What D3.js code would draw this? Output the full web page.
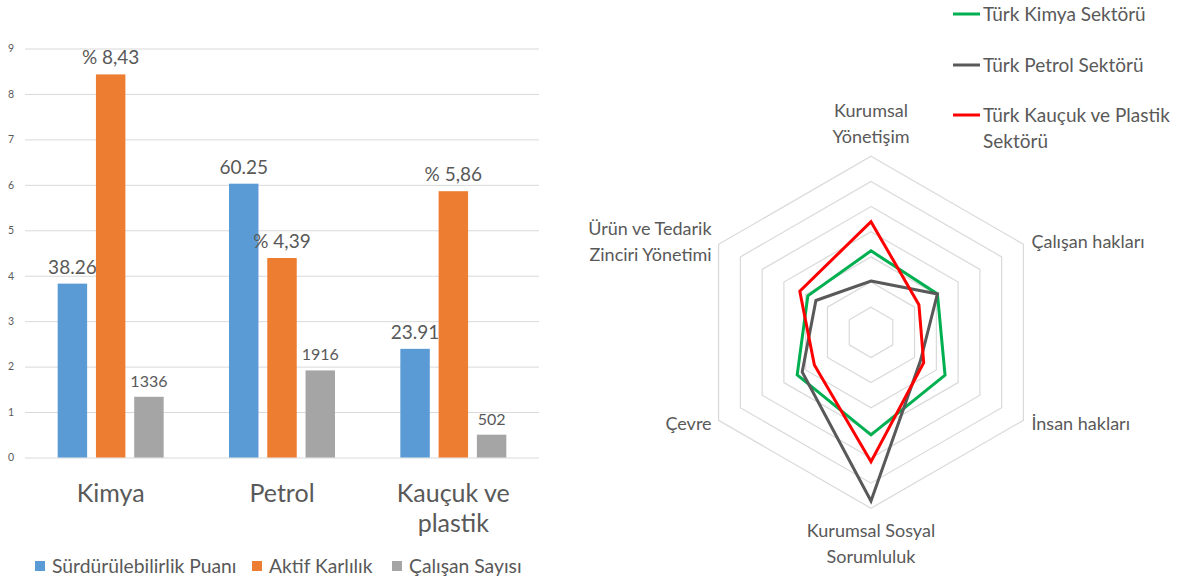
<!DOCTYPE html>
<html><head><meta charset="utf-8">
<script src="https://cdn.jsdelivr.net/npm/d3@7"></script>
<style>
body{margin:0;background:#fff;}
svg{display:block;font-family:Lato,"Open Sans",sans-serif;}
</style>
</head><body>
<svg id="c" width="1181" height="583"></svg>
<script>
// ---------- Bar chart data ----------
const categories = ["Kimya", "Petrol", "Kauçuk ve plastik"];
const categoryLines = [["Kimya"], ["Petrol"], ["Kauçuk ve", "plastik"]];
const seriesNames = ["Sürdürülebilirlik Puanı", "Aktif Karlılık", "Çalışan Sayısı"];
const sustainability = [3.826, 6.025, 2.391];
const sustainabilityLabels = ["38.26", "60.25", "23.91"];
const profitability = [8.43, 4.39, 5.86];
const profitabilityLabels = ["% 8,43", "% 4,39", "% 5,86"];
const employees = [1.336, 1.916, 0.502];
const employeesLabels = ["1336", "1916", "502"];
const yTicks = [0, 1, 2, 3, 4, 5, 6, 7, 8, 9];

// ---------- Radar chart data ----------
const radarAxes = ["Kurumsal Yönetişim", "Çalışan hakları", "İnsan hakları", "Kurumsal Sosyal Sorumluluk", "Çevre", "Ürün ve Tedarik Zinciri Yönetimi"];
const radarAxisLines = [["Kurumsal", "Yönetişim"], ["Çalışan hakları"], ["İnsan hakları"], ["Kurumsal Sosyal", "Sorumluluk"], ["Çevre"], ["Ürün ve Tedarik", "Zinciri Yönetimi"]];
const radarSeriesNames = ["Türk Kimya Sektörü", "Türk Petrol Sektörü", "Türk Kauçuk ve Plastik Sektörü"];
const radarLegendLines = [["Türk Kimya Sektörü"], ["Türk Petrol Sektörü"], ["Türk Kauçuk ve Plastik", "Sektörü"]];
const kimyaScores = [3.24, 3.05, 3.4, 4.08, 3.39, 2.9];
const petrolScores = [2.04, 3.05, 2.27, 6.71, 3.16, 2.53];
const kaucukScores = [4.4, 2.2, 2.42, 5.15, 2.6, 3.27];
const radarTicks = [1, 2, 3, 4, 5, 6, 7];

const TEXT = "#595959";
const svg = d3.select("#c");
svg.append("rect").attr("width", 1181).attr("height", 583).attr("fill", "#fff");

// ================= BAR CHART =================
const barColors = ["#5B9BD5", "#ED7D31", "#A5A5A5"];
const seriesValues = [sustainability, profitability, employees];
const seriesLabels = [sustainabilityLabels, profitabilityLabels, employeesLabels];
const labelSizes = [19, 19, 16];

const plot = {left: 25, right: 539, top: 48.5, bottom: 457.5};
const y = d3.scaleLinear().domain([0, 9]).range([plot.bottom, plot.top]);
const x0 = d3.scaleBand().domain(categories).range([plot.left, plot.right]).paddingInner(0).paddingOuter(0);
const groupW = 106;
const x1 = d3.scaleBand().domain(seriesNames)
  .range([(x0.bandwidth() - groupW) / 2, (x0.bandwidth() + groupW) / 2]).paddingInner(0.23).paddingOuter(0);

const yAxis = d3.axisLeft(y).tickValues(yTicks).tickSize(-(plot.right - plot.left)).tickPadding(11).tickFormat(d3.format("d"));
const gy = svg.append("g").attr("transform", `translate(${plot.left},0)`).call(yAxis);
gy.select(".domain").remove();
gy.selectAll(".tick line").attr("stroke", "#d9d9d9").attr("stroke-width", 1);
gy.selectAll(".tick text").attr("fill", TEXT).attr("font-size", 10.5).attr("font-family", "Lato, 'Open Sans', sans-serif");

const groups = svg.append("g").selectAll("g").data(categories).join("g")
  .attr("transform", d => `translate(${x0(d)},0)`);

seriesNames.forEach((s, si) => {
  groups.append("rect")
    .attr("x", x1(s))
    .attr("width", x1.bandwidth())
    .attr("y", (d, ci) => y(seriesValues[si][ci]))
    .attr("height", (d, ci) => y(0) - y(seriesValues[si][ci]))
    .attr("fill", barColors[si]);
  groups.append("text")
    .attr("x", x1(s) + x1.bandwidth() / 2)
    .attr("y", (d, ci) => y(seriesValues[si][ci]) - 10)
    .attr("text-anchor", "middle")
    .attr("font-size", labelSizes[si])
    .attr("fill", TEXT)
    .text((d, ci) => seriesLabels[si][ci]);
});

// category labels
groups.each(function(d, ci) {
  const g = d3.select(this);
  categoryLines[ci].forEach((line, li) => {
    g.append("text")
      .attr("x", x0.bandwidth() / 2)
      .attr("y", 502 + li * 30)
      .attr("text-anchor", "middle")
      .attr("font-size", 25)
      .attr("fill", TEXT)
      .text(line);
  });
});

// bottom legend
const legendX = [35, 252, 392];
const lg = svg.append("g");
seriesNames.forEach((s, si) => {
  lg.append("rect").attr("x", legendX[si]).attr("y", 561).attr("width", 10).attr("height", 10).attr("fill", barColors[si]);
  lg.append("text").attr("x", legendX[si] + 17).attr("y", 573).attr("font-size", 19.3).attr("fill", TEXT).text(s);
});

// ================= RADAR CHART =================
const cx = 871, cy = 332.3, R = 176;
const rScale = d3.scaleLinear().domain([0, 7]).range([0, R]);
const angle = i => i * 2 * Math.PI / radarAxes.length;
const rg = svg.append("g").attr("transform", `translate(${cx},${cy})`);

const radial = d3.lineRadial().angle((d, i) => angle(i)).radius(d => rScale(d)).curve(d3.curveLinearClosed);

radarTicks.forEach(t => {
  rg.append("path").attr("d", radial(radarAxes.map(() => t)))
    .attr("fill", "none").attr("stroke", "#d9d9d9").attr("stroke-width", 1.2);
});

const radarColors = ["#00B050", "#595959", "#FF0000"];
const radarData = [kimyaScores, petrolScores, kaucukScores];
radarData.forEach((vals, si) => {
  rg.append("path").attr("d", radial(vals))
    .attr("fill", "none").attr("stroke", radarColors[si]).attr("stroke-width", 3)
    .attr("stroke-linejoin", "miter");
});

// axis labels
radarAxes.forEach((a, i) => {
  const ang = angle(i);
  const vx = Math.sin(ang) * R, vy = -Math.cos(ang) * R;
  const lines = radarAxisLines[i];
  const n = lines.length;
  const lh = 26;
  let anchor, tx, centerY;
  if (Math.abs(Math.sin(ang)) < 1e-6) {
    anchor = "middle"; tx = vx;
    if (Math.cos(ang) > 0) centerY = vy - 20 - (n - 1) * lh;
    else centerY = vy + 22;
  } else {
    anchor = Math.sin(ang) > 0 ? "start" : "end";
    tx = vx + (Math.sin(ang) > 0 ? 8 : -7);
    centerY = vy - 6 * Math.cos(ang) - (n - 1) * lh / 2;
  }
  lines.forEach((line, li) => {
    rg.append("text")
      .attr("x", tx).attr("y", centerY + li * lh + 6.5)
      .attr("text-anchor", anchor).attr("font-size", 18).attr("fill", TEXT)
      .text(line);
  });
});

// radar legend
const legY = [14, 65, 115];
const rl = svg.append("g");
radarSeriesNames.forEach((s, si) => {
  rl.append("line").attr("x1", 953).attr("x2", 980).attr("y1", legY[si]).attr("y2", legY[si])
    .attr("stroke", radarColors[si]).attr("stroke-width", 3);
  radarLegendLines[si].forEach((line, li) => {
    rl.append("text").attr("x", 983).attr("y", legY[si] + 6.5 + li * 26.7)
      .attr("font-size", 19).attr("fill", TEXT).text(line);
  });
});
</script>
</body></html>
